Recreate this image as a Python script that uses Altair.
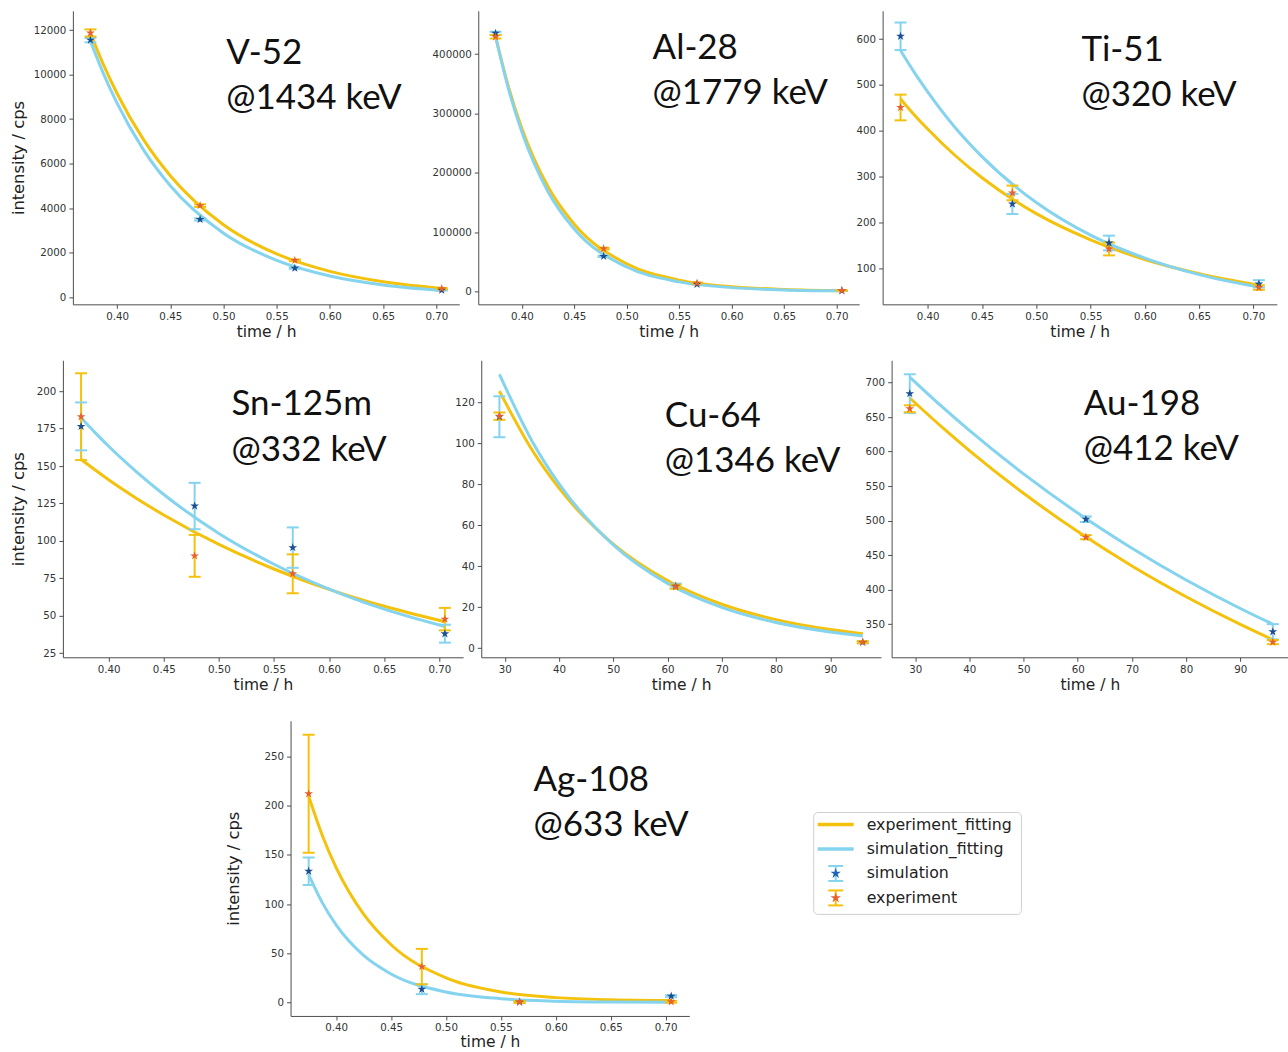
import altair as alt
import pandas as pd

# ---------------- data ----------------
T_SHORT = [0.375, 0.478, 0.567, 0.705]
T_LONG = [29.0, 61.5, 96.0]
FIT_T_SHORT = [0.375, 0.3875, 0.40, 0.425, 0.45, 0.50, 0.55, 0.60, 0.65, 0.705]
FIT_T_LONG = [29, 35, 40, 50, 60, 70, 80, 90, 96]

TICKS_T_SHORT = [0.40, 0.45, 0.50, 0.55, 0.60, 0.65, 0.70]
TICKS_T_LONG = [30, 40, 50, 60, 70, 80, 90]

# V-52 @1434 keV
V52_EXP = [11870, 4110, 1650, 380]
V52_EXP_ERR = [160, 60, 40, 30]
V52_SIM = [11550, 3490, 1300, 310]
V52_SIM_ERR = [100, 50, 30, 20]
V52_EXP_FIT = [11850, 10411, 9150, 7063, 5455, 3250, 1937, 1154, 688, 390]
V52_SIM_FIT = [11500, 10010, 8714, 6601, 5003, 2872, 1649, 946, 543, 295]
V52_YTICKS = [0, 2000, 4000, 6000, 8000, 10000, 12000]

# Al-28 @1779 keV
AL28_EXP = [429000, 72000, 14000, 1500]
AL28_EXP_ERR = [3000, 1500, 800, 300]
AL28_SIM = [435000, 59000, 12000, 1000]
AL28_SIM_ERR = [2500, 1200, 600, 200]
AL28_EXP_FIT = [429000, 343400, 275000, 176200, 113000, 46400, 19000, 7800, 3200, 1200]
AL28_SIM_FIT = [430000, 340000, 269000, 168000, 105000, 41000, 16000, 6300, 2450, 870]
AL28_YTICKS = [0, 100000, 200000, 300000, 400000]

# Ti-51 @320 keV
TI51_EXP = [451, 265, 143, 59]
TI51_EXP_ERR = [28, 16, 14, 5]
TI51_SIM = [606, 241, 156, 67]
TI51_SIM_ERR = [30, 22, 16, 8]
TI51_EXP_FIT = [469.6, 435.4, 404, 347, 298, 220, 163, 120, 89, 64]
TI51_SIM_FIT = [575, 528, 485, 408, 344, 244, 173, 123, 87, 60]
TI51_YTICKS = [100, 200, 300, 400, 500, 600]

# Sn-125m @332 keV
SN125_EXP = [183, 90, 78, 47.7]
SN125_EXP_ERR = [29, 14, 13, 7.5]
SN125_SIM = [176.5, 123.3, 95.5, 38]
SN125_SIM_ERR = [16, 15.5, 13.5, 6]
SN125_EXP_FIT = [154.4, 147.5, 140.8, 128.5, 117.3, 97.6, 81.2, 67.6, 56.3, 46]
SN125_SIM_FIT = [182.2, 172.5, 163.2, 146.3, 131, 105, 84.4, 67.8, 54.4, 42.8]
SN125_YTICKS = [25, 50, 75, 100, 125, 150, 175, 200]

# Cu-64 @1346 keV
CU64_EXP = [113.3, 30, 2.9]
CU64_EXP_ERR = [1.8, 1, 0.5]
CU64_SIM = [113, 30.3, 2.8]
CU64_SIM_ERR = [10, 1.2, 0.5]
CU64_EXP_FIT = [125.5, 96.9, 78.1, 50.8, 33.0, 21.4, 13.9, 9.05, 7.0]
CU64_SIM_FIT = [133.7, 101.2, 80.2, 50.4, 31.6, 19.9, 12.5, 7.84, 5.9]
CU64_YTICKS = [0, 20, 40, 60, 80, 100, 120]

# Au-198 @412 keV
AU198_EXP = [662, 476, 324]
AU198_EXP_ERR = [5, 3, 3]
AU198_SIM = [684, 502, 339]
AU198_SIM_ERR = [28, 4, 11]
AU198_EXP_FIT = [677.7, 635, 601.5, 539.6, 484.1, 434.3, 389.7, 349.6, 327.5]
AU198_SIM_FIT = [708, 664.7, 630.6, 567.7, 511, 460, 414, 372.7, 350]
AU198_YTICKS = [350, 400, 450, 500, 550, 600, 650, 700]

# Ag-108 @633 keV
AG108_EXP = [212, 36.5, 0.6, 0.8]
AG108_EXP_ERR = [60, 18, 1, 1]
AG108_SIM = [133.4, 13.5, 0.5, 6.5]
AG108_SIM_ERR = [14, 5, 1, 1]
AG108_EXP_FIT = [209.4, 169.4, 137, 89.7, 58.7, 25.1, 10.8, 5.0, 2.8, 2.0]
AG108_SIM_FIT = [130, 101.2, 78.8, 47.8, 29, 10.7, 3.9, 1.4, 0.5, 0.2]
AG108_YTICKS = [0, 50, 100, 150, 200, 250]

LABELS = ["V-52\n@1434 keV", "Al-28\n@1779 keV", "Ti-51\n@320 keV",
          "Sn-125m\n@332 keV", "Cu-64\n@1346 keV", "Au-198\n@412 keV",
          "Ag-108\n@633 keV"]
# anchor of each nuclide label, in the panel's data units (time, intensity)
LABEL_T = [0.5025, 0.5246, 0.5416, 0.5114, 59.5, 61.1, 0.5796]
LABEL_Y = [10488, 391585, 552.8, 184, 108.1, 653.7, 215.2]

LEGEND_LABELS = ["experiment_fitting", "simulation_fitting", "simulation", "experiment"]

# ---------------- styles ----------------
YELLOW = "#f4c20d"
LBLUE = "#84d3ef"
NAVY = "#1b4f91"
ORANGE = "#e8602c"
LEGEND_STAR_BLUE = "#1f63b4"
# five-pointed star (matplotlib '*'-like) as a unit symbol path
STAR = ("M0,-1L0.2245,-0.309L0.9511,-0.309L0.3633,0.118L0.5878,0.809L0,0.382"
        "L-0.5878,0.809L-0.3633,0.118L-0.9511,-0.309L-0.2245,-0.309Z")


def panel(t, exp, exp_err, sim, sim_err, fit_t, exp_fit, sim_fit,
          xdom, ydom, xticks, xfmt, yticks, width, height, idx,
          ytitle="", ytitle_pad=5, xtitle_pad=3):
    pts = pd.DataFrame({
        "t": t,
        "e_val": exp,
        "e_lo": [v - e for v, e in zip(exp, exp_err)],
        "e_hi": [v + e for v, e in zip(exp, exp_err)],
        "s_val": sim,
        "s_lo": [v - e for v, e in zip(sim, sim_err)],
        "s_hi": [v + e for v, e in zip(sim, sim_err)],
    })
    fit = pd.DataFrame({"t": fit_t, "e_fit": exp_fit, "s_fit": sim_fit})
    lab = pd.DataFrame({"t": [LABEL_T[idx]], "ly": [LABEL_Y[idx]], "txt": [LABELS[idx]]})

    xs = alt.Scale(domain=xdom, nice=False, zero=False)
    ys = alt.Scale(domain=ydom, nice=False, zero=False)
    xax = alt.Axis(values=xticks, format=xfmt, title="time / h", titlePadding=xtitle_pad)
    yax = alt.Axis(values=yticks, format="d", title=ytitle, titlePadding=ytitle_pad)
    X = alt.X("t:Q", scale=xs, axis=xax)

    def Y(f):
        return alt.Y(f + ":Q", scale=ys, axis=yax)

    bf = alt.Chart(fit)
    bp = alt.Chart(pts)
    exp_line = bf.mark_line(color=YELLOW, strokeWidth=3, interpolate="monotone").encode(x=X, y=Y("e_fit"))
    sim_line = bf.mark_line(color=LBLUE, strokeWidth=3, interpolate="monotone").encode(x=X, y=Y("s_fit"))
    sim_bar = bp.mark_rule(color=LBLUE, strokeWidth=2).encode(x=X, y=Y("s_lo"), y2="s_hi:Q")
    exp_bar = bp.mark_rule(color=YELLOW, strokeWidth=2).encode(x=X, y=Y("e_lo"), y2="e_hi:Q")
    caps = []
    for c, f in [(LBLUE, "s_lo"), (LBLUE, "s_hi"), (YELLOW, "e_lo"), (YELLOW, "e_hi")]:
        caps.append(bp.mark_tick(color=c, orient="horizontal", size=12, thickness=2, opacity=1).encode(x=X, y=Y(f)))
    sim_star = bp.mark_point(shape=STAR, filled=True, size=85, color=NAVY, opacity=1).encode(x=X, y=Y("s_val"))
    exp_star = bp.mark_point(shape=STAR, filled=True, size=85, color=ORANGE, opacity=1).encode(x=X, y=Y("e_val"))
    text = alt.Chart(lab).mark_text(align="left", baseline="alphabetic", font="Lato",
                                    fontSize=35, lineBreak="\n", lineHeight=45.5,
                                    color="#111111").encode(x=X, y=Y("ly"), text="txt:N")
    return alt.layer(exp_line, sim_line, sim_bar, exp_bar, *caps,
                     sim_star, exp_star, text).properties(width=width, height=height)


def spacer(w, h):
    return alt.Chart(pd.DataFrame({"v": [0]})).mark_point(opacity=0, size=1).encode(
        x=alt.value(0), y=alt.value(0)).properties(width=w, height=h)


def legend_panel(w, h, top):
    one = pd.DataFrame({"a": [0]})
    box = alt.Chart(one).mark_rect(
        fill="white", stroke="#cfcfcf", strokeWidth=1, cornerRadius=4).encode(
        x=alt.value(0), x2=alt.value(208), y=alt.value(top), y2=alt.value(top + 102))
    layers = [box]
    rows_y = [top + 12, top + 36.5, top + 61, top + 85.5]
    for i, lab in enumerate(LEGEND_LABELS):
        yy = rows_y[i]
        d = alt.Chart(pd.DataFrame({"label": [lab]}))
        if i < 2:
            c = YELLOW if i == 0 else LBLUE
            layers.append(d.mark_rule(color=c, strokeWidth=3.5).encode(
                x=alt.value(4), x2=alt.value(40), y=alt.value(yy)))
        else:
            c = LBLUE if i == 2 else YELLOW
            sc = LEGEND_STAR_BLUE if i == 2 else ORANGE
            layers.append(d.mark_rule(color=c, strokeWidth=2).encode(
                x=alt.value(22), y=alt.value(yy - 7.5), y2=alt.value(yy + 7.5)))
            layers.append(d.mark_rule(color=c, strokeWidth=2).encode(
                x=alt.value(14.5), x2=alt.value(29.5), y=alt.value(yy - 7.5)))
            layers.append(d.mark_rule(color=c, strokeWidth=2).encode(
                x=alt.value(14.5), x2=alt.value(29.5), y=alt.value(yy + 7.5)))
            layers.append(d.mark_point(shape=STAR, filled=True, size=120, opacity=1,
                                       color=sc).encode(x=alt.value(22), y=alt.value(yy)))
        layers.append(d.mark_text(align="left", baseline="middle", font="DejaVu Sans",
                                  fontSize=15.8, color="#222222").encode(
            x=alt.value(53), y=alt.value(yy), text="label:N"))
    return alt.layer(*layers).properties(width=w, height=h)


XS = [0.3585, 0.7215]

p1 = panel(T_SHORT, V52_EXP, V52_EXP_ERR, V52_SIM, V52_SIM_ERR, FIT_T_SHORT, V52_EXP_FIT, V52_SIM_FIT,
           XS, [-328, 12866], TICKS_T_SHORT, ".2f", V52_YTICKS, 387, 294, 0,
           ytitle="intensity / cps", ytitle_pad=6.5)
p2 = panel(T_SHORT, AL28_EXP, AL28_EXP_ERR, AL28_SIM, AL28_SIM_ERR, FIT_T_SHORT, AL28_EXP_FIT, AL28_SIM_FIT,
           XS, [-21879, 472874], TICKS_T_SHORT, ".2f", AL28_YTICKS, 381.5, 294, 1)
p3 = panel(T_SHORT, TI51_EXP, TI51_EXP_ERR, TI51_SIM, TI51_SIM_ERR, FIT_T_SHORT, TI51_EXP_FIT, TI51_SIM_FIT,
           XS, [22.4, 661.5], TICKS_T_SHORT, ".2f", TI51_YTICKS, 394.8, 294, 2)
p4 = panel(T_SHORT, SN125_EXP, SN125_EXP_ERR, SN125_SIM, SN125_SIM_ERR, FIT_T_SHORT, SN125_EXP_FIT, SN125_SIM_FIT,
           XS, [22.2, 220.7], TICKS_T_SHORT, ".2f", SN125_YTICKS, 400.8, 297.5, 3,
           ytitle="intensity / cps", ytitle_pad=9.5)
p5 = panel(T_LONG, CU64_EXP, CU64_EXP_ERR, CU64_SIM, CU64_SIM_ERR, FIT_T_LONG, CU64_EXP_FIT, CU64_SIM_FIT,
           [25.65, 99.35], [-4.5, 140.6], TICKS_T_LONG, "d", CU64_YTICKS, 400.3, 297.5, 4)
p6 = panel(T_LONG, AU198_EXP, AU198_EXP_ERR, AU198_SIM, AU198_SIM_ERR, FIT_T_LONG, AU198_EXP_FIT, AU198_SIM_FIT,
           [25.65, 98.8], [302, 732.3], TICKS_T_LONG, "d", AU198_YTICKS, 397, 297.5, 5)
p7 = panel(T_SHORT, AG108_EXP, AG108_EXP_ERR, AG108_SIM, AG108_SIM_ERR, FIT_T_SHORT, AG108_EXP_FIT, AG108_SIM_FIT,
           XS, [-13.6, 286.2], TICKS_T_SHORT, ".2f", AG108_YTICKS, 399.4, 295.7, 6,
           ytitle="intensity / cps", ytitle_pad=22, xtitle_pad=1)

row1 = alt.hconcat(spacer(71.5, 294), p1, spacer(18.6, 294), p2, spacer(23, 294), p3,
                   spacing=0, bounds="flush")
row2 = alt.hconcat(spacer(61.2, 297.5), p4, spacer(17.7, 297.5), p5, spacer(9.1, 297.5), p6,
                   spacing=0, bounds="flush")
row3 = alt.hconcat(spacer(290, 295.7), p7, spacer(123.6, 295.7), legend_panel(208, 194, 92),
                   spacing=0, bounds="flush")

lower = alt.vconcat(row2, row3, spacing=26)
chart = alt.vconcat(row1, lower, spacing=19).properties(
    padding={"left": 0, "top": 9, "right": 0, "bottom": 0}, background="white"
).configure_view(strokeWidth=0).configure_axis(
    grid=False,
    domainColor="#4d4d4d", domainWidth=1,
    tickColor="#4d4d4d", tickSize=4, tickWidth=1,
    labelColor="#333333", labelFont="DejaVu Sans", labelFontSize=10.3, labelPadding=3,
    titleFont="DejaVu Sans", titleFontWeight="normal", titleColor="#222222",
).configure_axisX(titleFontSize=15.5).configure_axisY(titleFontSize=16.3)

chart.save("out.html", embed_options={"renderer": "svg", "actions": False})
